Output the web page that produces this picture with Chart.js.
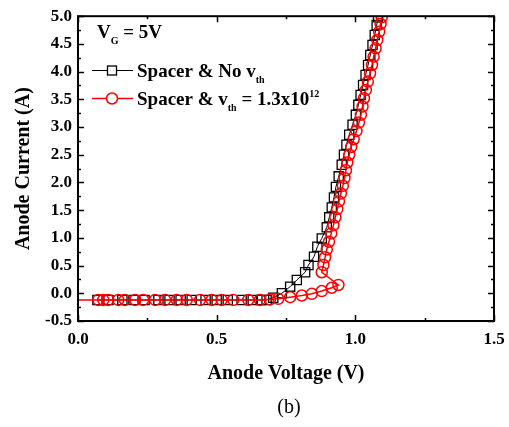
<!DOCTYPE html>
<html>
<head>
<meta charset="utf-8">
<script src="https://cdn.jsdelivr.net/npm/chart.js@4.4.1/dist/chart.umd.min.js"></script>
<style>
  body { margin: 0; background: #fff; }
  canvas { display: block; }
</style>
</head>
<body>
<canvas id="ivChart" width="509" height="427"></canvas>
<script>
// Anode voltage (V) / anode current (A)
const noVthVoltage = [0.07, 0.11, 0.16, 0.20, 0.24, 0.29, 0.33, 0.37, 0.41, 0.46, 0.50, 0.54, 0.59, 0.63, 0.66,
  0.680, 0.704, 0.735, 0.765, 0.789, 0.819, 0.831, 0.851, 0.863, 0.879, 0.897, 0.906, 0.915, 0.923, 0.930,
  0.940, 0.951, 0.959, 0.968, 0.978, 0.990, 1.002, 1.011, 1.019, 1.028, 1.037, 1.046, 1.054, 1.062, 1.070,
  1.077, 1.082];
const noVthCurrent = [-0.12, -0.12, -0.12, -0.12, -0.12, -0.12, -0.12, -0.12, -0.12, -0.12, -0.12, -0.12, -0.12, -0.12, -0.12,
  -0.12, -0.08, 0.00, 0.12, 0.24, 0.38, 0.51, 0.66, 0.84, 0.99, 1.19, 1.37, 1.55, 1.73, 1.92,
  2.11, 2.32, 2.50, 2.68, 2.86, 3.04, 3.22, 3.40, 3.58, 3.76, 3.94, 4.12, 4.30, 4.48, 4.66,
  4.84, 4.98];

const vthVoltage = [0.0, 0.073, 0.091, 0.109, 0.145, 0.169, 0.206, 0.235, 0.278, 0.314, 0.356, 0.392, 0.44, 0.482, 0.518,
  0.56, 0.614, 0.656, 0.692, 0.722, 0.765, 0.807, 0.843, 0.879, 0.915, 0.939,
  0.879, 0.885, 0.891, 0.897, 0.905, 0.913, 0.921, 0.928, 0.935, 0.941, 0.948, 0.955, 0.961, 0.966, 0.971,
  0.978, 0.985, 0.994, 1.004, 1.013, 1.020, 1.026, 1.031, 1.038, 1.045, 1.053, 1.060, 1.066, 1.073, 1.079,
  1.086, 1.091, 1.095];
const vthCurrent = [-0.12, -0.12, -0.12, -0.12, -0.12, -0.12, -0.12, -0.12, -0.12, -0.12, -0.12, -0.12, -0.12, -0.12, -0.12,
  -0.12, -0.12, -0.12, -0.11, -0.10, -0.07, -0.04, -0.01, 0.04, 0.10, 0.15,
  0.38, 0.51, 0.65, 0.79, 0.93, 1.08, 1.23, 1.37, 1.52, 1.66, 1.80, 1.94, 2.08, 2.22, 2.36,
  2.50, 2.64, 2.78, 2.93, 3.08, 3.22, 3.37, 3.52, 3.67, 3.82, 3.97, 4.12, 4.27, 4.42, 4.57,
  4.72, 4.86, 4.98];

const xTicks = [0.0, 0.5, 1.0, 1.5];
const yTicks = [-0.5, 0.0, 0.5, 1.0, 1.5, 2.0, 2.5, 3.0, 3.5, 4.0, 4.5, 5.0];

const serif = '"Liberation Serif", "Times New Roman", serif';

const toPoints = (xs, ys) => xs.map((x, i) => ({ x: x, y: ys[i] }));

// frame, inward ticks, legend with sub/superscripts and the "(b)" caption
const decorations = {
  id: 'decorations',
  afterDraw(chart) {
    const { ctx, chartArea: a, scales } = chart;
    const xs = scales.x, ys = scales.y;
    ctx.save();
    ctx.strokeStyle = '#000';
    ctx.lineWidth = 1.5;
    for (let v = 0; v <= 1.5001; v += 0.25) {
      const px = Math.round(xs.getPixelForValue(v)) + 0.5;
      const len = Math.abs(v / 0.5 - Math.round(v / 0.5)) < 1e-6 ? 6 : 3;
      ctx.beginPath();
      ctx.moveTo(px, a.bottom); ctx.lineTo(px, a.bottom - len);
      ctx.moveTo(px, a.top); ctx.lineTo(px, a.top + len);
      ctx.stroke();
    }
    for (let v = -0.5; v <= 5.0001; v += 0.25) {
      const py = Math.round(ys.getPixelForValue(v)) + 0.5;
      const len = Math.abs(v / 0.5 - Math.round(v / 0.5)) < 1e-6 ? 6 : 3;
      ctx.beginPath();
      ctx.moveTo(a.left, py); ctx.lineTo(a.left + len, py);
      ctx.moveTo(a.right, py); ctx.lineTo(a.right - len, py);
      ctx.stroke();
    }
    ctx.lineWidth = 2;
    ctx.strokeRect(a.left, a.top, a.right - a.left, a.bottom - a.top);

    // text runs: [text, size, dy]
    const runs = (x, y, parts) => {
      ctx.textBaseline = 'alphabetic';
      ctx.textAlign = 'left';
      ctx.fillStyle = '#000';
      for (const p of parts) {
        ctx.font = 'bold ' + p[1] + 'px ' + serif;
        ctx.fillText(p[0], x, y + p[2]);
        x += ctx.measureText(p[0]).width;
      }
    };
    runs(97, 38, [['V', 19, 0], ['G', 10, 6], [' = 5V', 19, 0]]);

    // legend entry 1
    ctx.strokeStyle = '#000';
    ctx.lineWidth = 1;
    ctx.beginPath(); ctx.moveTo(92, 70.5); ctx.lineTo(133, 70.5); ctx.stroke();
    ctx.fillStyle = '#fff';
    ctx.lineWidth = 1.3;
    ctx.fillRect(107.5, 66, 9, 9);
    ctx.strokeRect(107.5, 66, 9, 9);
    runs(137, 77, [['Spacer & No v', 19, 0], ['th', 10, 6]]);

    // legend entry 2
    ctx.strokeStyle = '#ff0000';
    ctx.lineWidth = 1.5;
    ctx.beginPath(); ctx.moveTo(92, 98.5); ctx.lineTo(133, 98.5); ctx.stroke();
    ctx.fillStyle = '#fff';
    ctx.beginPath(); ctx.arc(112, 98.5, 5.5, 0, Math.PI * 2); ctx.fill(); ctx.stroke();
    runs(137, 105, [['Spacer & v', 19, 0], ['th', 10, 6], [' = 1.3x10', 19, 0], ['12', 10, -8]]);

    ctx.font = '20px ' + serif;
    ctx.fillStyle = '#000';
    ctx.textAlign = 'center';
    ctx.textBaseline = 'middle';
    ctx.fillText('(b)', 289, 408);
    ctx.restore();
  }
};

new Chart(document.getElementById('ivChart'), {
  type: 'scatter',
  data: {
    datasets: [{
      label: 'Spacer & v_th = 1.3x10^12',
      data: toPoints(vthVoltage, vthCurrent),
      showLine: true,
      borderColor: '#ff0000',
      borderWidth: 1.5,
      pointStyle: 'circle',
      pointRadius: vthVoltage.map(v => v === 0 ? 0 : 5.5),
      pointBorderWidth: 1.5,
      pointBorderColor: '#ff0000',
      pointBackgroundColor: 'rgba(255,255,255,0)',
      order: 1
    }, {
      label: 'Spacer & No v_th',
      data: toPoints(noVthVoltage, noVthCurrent),
      showLine: true,
      borderColor: '#000',
      borderWidth: 1,
      pointStyle: 'rect',
      pointRadius: 6.5,
      pointBorderWidth: 1.3,
      pointBorderColor: '#000',
      pointBackgroundColor: 'rgba(255,255,255,0)',
      order: 2
    }]
  },
  options: {
    responsive: false,
    animation: false,
    layout: { padding: { top: 14, right: 15, left: 0, bottom: 0 } },
    plugins: { legend: { display: false }, tooltip: { enabled: false } },
    scales: {
      x: {
        type: 'linear',
        min: 0, max: 1.5,
        afterFit(scale) { scale.height = 106; scale.paddingLeft = 0; scale.paddingRight = 0; },
        afterBuildTicks(scale) { scale.ticks = xTicks.map(v => ({ value: v })); },
        grid: { display: false, drawTicks: false },
        border: { display: false },
        ticks: {
          padding: 8,
          color: '#000',
          font: { family: serif, size: 17, weight: 'bold' },
          callback: v => v.toFixed(1)
        },
        title: {
          display: true,
          text: 'Anode Voltage (V)',
          color: '#000',
          font: { family: serif, size: 20, weight: 'bold' },
          padding: { top: 0, bottom: 41 }
        }
      },
      y: {
        type: 'linear',
        min: -0.5, max: 5,
        afterFit(scale) { scale.width = 78; },
        afterBuildTicks(scale) { scale.ticks = yTicks.map(v => ({ value: v })); },
        grid: { display: false, drawTicks: false },
        border: { display: false },
        ticks: {
          padding: 6,
          color: '#000',
          font: { family: serif, size: 17, weight: 'bold' },
          callback: v => v.toFixed(1)
        },
        title: {
          display: true,
          text: 'Anode Current (A)',
          color: '#000',
          font: { family: serif, size: 20, weight: 'bold' },
          padding: { top: 12, bottom: 0 }
        }
      }
    }
  },
  plugins: [decorations]
});
</script>
</body>
</html>
